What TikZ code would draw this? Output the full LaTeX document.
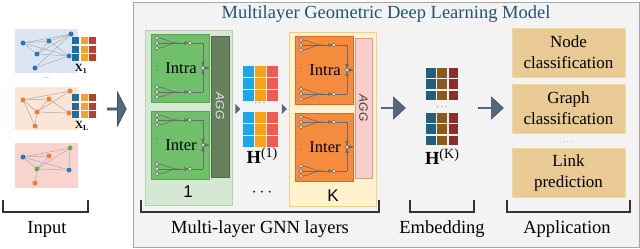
\documentclass[tikz,border=0pt]{standalone}
\usepackage{fontspec}
\setmainfont{Liberation Serif}
\setsansfont{Liberation Sans}
\usepackage{tikz}
\usetikzlibrary{shapes,arrows,positioning,calc}

\definecolor{panelbg}{HTML}{F3F3F3}
\definecolor{paneledge}{HTML}{A6A6A6}
\definecolor{titleblue}{HTML}{1F5673}
\definecolor{arrowfill}{HTML}{53687D}
\definecolor{arrowedge}{HTML}{3E4F60}
\definecolor{wiregray}{HTML}{6B6B6B}
\definecolor{gblue}{HTML}{2E75B6}
\definecolor{gorange}{HTML}{ED7D31}
\definecolor{ggreen}{HTML}{5FAF4A}
\definecolor{inblue}{HTML}{DCE6F2}
\definecolor{inorange}{HTML}{FBE5D6}
\definecolor{inpink}{HTML}{F9D3CE}
\definecolor{xblue}{HTML}{1A6FA0}
\definecolor{xorange}{HTML}{F5A030}
\definecolor{xred}{HTML}{B5412E}
\definecolor{hblue}{HTML}{1EA7E6}
\definecolor{horange}{HTML}{F7A21B}
\definecolor{hred}{HTML}{F25A51}
\definecolor{kblue}{HTML}{1F5F7F}
\definecolor{kbrown}{HTML}{8B5A1B}
\definecolor{kred}{HTML}{8B2E2A}
\definecolor{appfill}{HTML}{E9C994}
\definecolor{appedge}{HTML}{F0D9A8}
\definecolor{gnnfill}{HTML}{D5E8D4}
\definecolor{gnnedge}{HTML}{B5D3B0}
\definecolor{intrag}{HTML}{70BF6B}
\definecolor{intragedge}{HTML}{5AA356}
\definecolor{agggreen}{HTML}{66805C}
\definecolor{kfill}{HTML}{FFF2CC}
\definecolor{kedge}{HTML}{ECD08A}
\definecolor{intrao}{HTML}{F58B3D}
\definecolor{intraoedge}{HTML}{D9682A}
\definecolor{aggpink}{HTML}{F8CECC}
\definecolor{aggpinkedge}{HTML}{DC9A96}

% one Intra / Inter block with its little fan-in wiring
\newcommand{\gnnunit}[6]{%
  \begin{scope}[shift={(#1,#2)}]
    \draw[fill=#3, draw=#4, line width=0.8pt] (0,0) rectangle (58,68);
    \foreach \y in {4,53}{
      \draw[wire] (6,\y) to[out=0,in=180] (27,\y+5);
      \draw[wire] (6,\y+5) -- (27,\y+5);
      \draw[wire] (6,\y+10) to[out=0,in=180] (27,\y+5);
      \draw[wire,->] (27,\y+5) -- (37.3,\y+5);
      \draw[wire] (40.7,\y+5) -- (52,\y+5);
      \foreach \dy in {0,5,10} \draw[pin] (6,\y+\dy) circle (1.7);
      \draw[pin] (39,\y+5) circle (1.7);
    }
    \draw[wire] (52,9) -- (52,58);
    \draw[wire,->] (52,26) -- (52,32);
    \draw[wire,->] (52,42) -- (52,36);
    \draw[wire,->] (52,34) -- (58,34);
    \draw[pin] (52,34) circle (1.7);
    \foreach \y in {28,32,36} \fill[wiregray] (6,\y) circle (0.6);
    \node[font=\fontsize{16.5}{18}\selectfont, inner sep=0] (#6) at (30,34) {#5};
  \end{scope}}

% 3x3 feature matrix
\newcommand{\featblock}[7]{%
  \foreach \r in {0,1,2}{
    \fill[#5] (#1,#2+\r*#3) rectangle ++(#4,#4);
    \fill[#6] (#1+#3,#2+\r*#3) rectangle ++(#4,#4);
    \fill[#7] (#1+2*#3,#2+\r*#3) rectangle ++(#4,#4);
  }}

\newcommand{\layersup}[1]{\raisebox{6pt}{\fontsize{14}{15}\selectfont(#1)}}

\begin{document}
\begin{tikzpicture}[x=1pt, y=-1pt, >=stealth',
    lbl/.style={font=\fontsize{18.5}{21}\selectfont, inner sep=0},
    appbox/.style={rectangle, draw=appedge, fill=appfill, minimum width=113pt, minimum height=49pt, align=center, font=\fontsize{17}{21}\selectfont, inner sep=0},
    bigarrow/.style={single arrow, draw=arrowedge, fill=arrowfill, inner sep=0, line width=0.6pt},
    tri/.style={isosceles triangle, isosceles triangle stretches, fill=arrowfill, inner sep=0, minimum height=5pt, minimum width=10pt},
    gnode/.style={circle, inner sep=0, minimum size=5pt},
    gedge/.style={draw=gray!65, line width=0.5pt},
    wire/.style={draw=wiregray, line width=0.6pt},
    pin/.style={draw=wiregray, fill=white, line width=0.5pt},
    aggtext/.style={rotate=-90, font=\fontsize{12}{13}\sffamily\itshape, inner sep=0},
    bracket/.style={line width=1.3pt, draw=black!80}]
    \useasboundingbox (0,0) rectangle (640,249);

    % model panel
    \draw[fill=panelbg, draw=paneledge, line width=1pt] (133,2) rectangle (639,247);
    \node[lbl, text=titleblue] (title) at (386,14) {Multilayer Geometric Deep Learning Model};

    % input graphs
    \fill[inblue] (15,29) rectangle (78,73);
    \fill[inorange] (15,87) rectangle (78,130);
    \fill[inpink] (15,143) rectangle (78,188);

    \node[gnode, fill=gblue] (p1a) at (23,43) {};
    \node[gnode, fill=gblue] (p1b) at (49,41) {};
    \node[gnode, fill=gblue] (p1c) at (71,34) {};
    \node[gnode, fill=gblue] (p1d) at (37,54) {};
    \node[gnode, fill=gblue] (p1e) at (69,56) {};
    \node[gnode, fill=gblue] (p1f) at (35,68) {};
    \foreach \s/\t in {a/c,a/b,a/d,a/e,b/c,b/d,b/e,d/e,d/c,f/c,f/e}
        \draw[gedge] (p1\s) -- (p1\t);

    \node[gnode, fill=gorange] (p2a) at (23,100) {};
    \node[gnode, fill=gorange] (p2b) at (49,99) {};
    \node[gnode, fill=gorange] (p2c) at (70,91) {};
    \node[gnode, fill=gorange] (p2d) at (37,112) {};
    \node[gnode, fill=gorange] (p2e) at (69,113) {};
    \node[gnode, fill=gorange] (p2f) at (35,126) {};
    \foreach \s/\t in {a/c,a/b,a/d,a/f,b/d,b/e,d/c,d/e,d/f}
        \draw[gedge] (p2\s) -- (p2\t);

    \node[gnode, fill=gblue] (p3a) at (23,157) {};
    \node[gnode, fill=gorange] (p3b) at (49,156) {};
    \node[gnode, fill=ggreen] (p3c) at (70,148) {};
    \node[gnode, fill=ggreen] (p3d) at (37,169) {};
    \node[gnode, fill=gblue] (p3e) at (69,170) {};
    \node[gnode, fill=gorange] (p3f) at (35,183) {};
    \foreach \s/\t in {a/c,a/b,a/d,a/e,b/d,c/d,c/e,d/e,d/f}
        \draw[gedge] (p3\s) -- (p3\t);

    \featblock{72}{37}{8.5}{7.3}{xblue}{xorange}{xred}
    \featblock{72}{94}{8.5}{7.3}{xblue}{xorange}{xred}
    \node[font=\fontsize{11}{12}\selectfont\bfseries, inner sep=0] (xone) at (81,69) {X\textsubscript{1}};
    \node[font=\fontsize{11}{12}\selectfont\bfseries, inner sep=0] (xlast) at (82,126) {X\textsubscript{L}};
    \node[font=\fontsize{8}{9}\selectfont, text=gray, inner sep=0] (idots) at (46,78) {...};

    \node[bigarrow, minimum width=34pt, minimum height=19pt, single arrow head extend=4pt, single arrow tip angle=125] (arrin) at (116.5,109) {};

    % layer 1
    \draw[fill=gnnfill, draw=gnnedge, line width=0.8pt] (145,30) rectangle (232,205);
    \gnnunit{151}{34}{intrag}{intragedge}{Intra}{intraone}
    \gnnunit{151}{111}{intrag}{intragedge}{Inter}{interone}
    \draw[fill=agggreen, draw=agggreen!80!black, line width=0.6pt] (211,36) rectangle (229,177);
    \node[aggtext, text=white!80!gray] (aggone) at (220,106) {AGG};
    \node[font=\fontsize{17}{19}\sffamily, inner sep=0] (layone) at (188,192) {1};

    % H(1)
    \node[tri] (triA) at (237.5,109) {};
    \featblock{243}{66}{12}{10.5}{hblue}{horange}{hred}
    \featblock{243}{112}{12}{10.5}{hblue}{horange}{hred}
    \node[font=\fontsize{9}{10}\selectfont, inner sep=0] (hdots) at (260,103) {$\cdots$};
    \node[lbl, inner sep=0] (hone) at (262,156) {\textbf{H}\layersup{1}};
    \node[lbl, inner sep=0] (layerdots) at (262,193) {$\cdots$};
    \node[tri] (triB) at (284,109) {};

    % layer K
    \draw[fill=kfill, draw=kedge, line width=0.8pt] (289,32) rectangle (376,206);
    \gnnunit{295}{36}{intrao}{intraoedge}{Intra}{intrak}
    \gnnunit{295}{113}{intrao}{intraoedge}{Inter}{interk}
    \draw[fill=aggpink, draw=aggpinkedge, line width=0.6pt] (355,38) rectangle (372,178);
    \node[aggtext, text=black!75] (aggk) at (363.5,108) {AGG};
    \node[font=\fontsize{17}{19}\sffamily, inner sep=0] (layk) at (333,196) {K};

    \node[bigarrow, minimum width=22pt, minimum height=24pt, single arrow head extend=5pt, single arrow tip angle=85] (arrmid) at (393,108) {};

    % H(K)
    \featblock{426}{68}{11.3}{9.8}{kblue}{kbrown}{kred}
    \featblock{426}{113}{11.3}{9.8}{kblue}{kbrown}{kred}
    \node[font=\fontsize{9}{10}\selectfont, inner sep=0] (kdots) at (442,107) {$\cdots$};
    \node[lbl, inner sep=0] (hk) at (442,157) {\textbf{H}\layersup{K}};

    \node[bigarrow, minimum width=22pt, minimum height=25pt, single arrow head extend=5pt, single arrow tip angle=85] (arrout) at (490.5,108) {};

    % applications
    \node[appbox] (nodecls) at (568.5,52.5) {Node\\classification};
    \node[appbox] (graphcls) at (568.5,108.5) {Graph\\classification};
    \node[font=\fontsize{9}{10}\selectfont, text=gray, inner sep=0] (appdots) at (568,142) {$\cdots$};
    \node[appbox] (linkpred) at (568.5,173) {Link\\prediction};

    % brackets and captions
    \draw[bracket] (3,200) -- (3,212) -- (88,212) -- (88,200);
    \draw[bracket] (141,200) -- (141,212) -- (379,212) -- (379,200);
    \draw[bracket] (410,200) -- (410,212) -- (474,212) -- (474,200);
    \draw[bracket] (507,200) -- (507,212) -- (630,212) -- (630,200);
    \node[lbl] (input) at (47,229) {Input};
    \node[lbl] (gnnlayers) at (260,229) {Multi-layer GNN layers};
    \node[lbl] (embed) at (442,229) {Embedding};
    \node[lbl] (appl) at (567,229) {Application};
\end{tikzpicture}
\end{document}
